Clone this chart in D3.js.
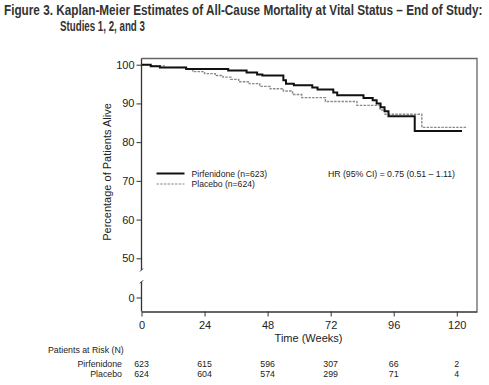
<!DOCTYPE html>
<html>
<head>
<meta charset="utf-8">
<script src="https://cdn.jsdelivr.net/npm/d3@7"></script>
<style>
  body { margin: 0; background: #fff; }
  svg text { font-family: "Liberation Sans", Arial, sans-serif; fill: #222; }
</style>
</head>
<body>
<div id="chart"></div>
<script>
var width = 489, height = 385;

// Kaplan-Meier step data (weeks, % alive)
var pirfTime = [0, 3.5, 7, 17, 33, 40, 44, 46, 54, 55, 58, 65, 67, 73, 74.5, 84.5, 88, 89.5, 91, 92.5, 94, 104, 122];
var pirfSurv = [100, 99.6, 99.3, 98.9, 98.5, 98.0, 97.5, 97.2, 96.0, 95.1, 94.7, 94.1, 93.6, 92.8, 92.1, 91.4, 90.8, 90.0, 89.0, 88.0, 86.7, 82.9, 82.9];
var placTime = [0, 4, 9, 17, 19.5, 24, 28, 31, 34, 37, 41, 45, 49, 54, 57.5, 61, 70, 82, 90.8, 92.7, 106.7, 123.6];
var placSurv = [100, 99.7, 99.3, 98.9, 98.2, 97.7, 97.2, 96.8, 96.2, 95.6, 95.1, 94.4, 93.8, 93.2, 92.3, 91.5, 90.5, 89.5, 88.3, 87.2, 83.8, 83.8];

var xTicks = [0, 24, 48, 72, 96, 120];
var yTicks = [0, 50, 60, 70, 80, 90, 100];
var riskPirf = [623, 615, 596, 307, 66, 2];
var riskPlac = [624, 604, 574, 299, 71, 4];

var svg = d3.select("#chart")
  .append("svg")
  .attr("width", width)
  .attr("height", height);

// Title, squeezed horizontally to the reference width
var titleFont = "'Liberation Sans Narrow', 'DejaVu Sans Condensed', sans-serif";
function fitTitle(str, x, y, w) {
  var t = svg.append("text")
    .attr("font-family", titleFont)
    .attr("font-weight", "bold")
    .attr("font-size", "14.5px")
    .style("fill", "#333")
    .text(str);
  var len = t.node().getComputedTextLength();
  t.attr("transform", `translate(${x},${y}) scale(${w / len},1)`);
}
fitTitle("Figure 3. Kaplan-Meier Estimates of All-Cause Mortality at Vital Status \u2013 End of Study:", 4, 15, 479);
fitTitle("Studies 1, 2, and 3", 60, 30.5, 85);

// Scales
var xScale = d3.scaleLinear()
  .domain([0, 127.7])
  .range([141.5, 477]);

// broken axis: 0 and 50..100
var yScale = d3.scaleLinear()
  .domain([-3.6, 0, 50, 101.6])
  .range([311.5, 297.5, 258.3, 58.5]);

var x0 = xScale.range()[0], x1 = xScale.range()[1];
var yTop = 58.5, yBot = 311.5;

// Frame top and right
svg.append("path")
  .attr("d", `M${x0},${yTop}H${x1}V${yBot}`)
  .attr("fill", "none")
  .attr("stroke", "#666")
  .attr("stroke-width", 1.3);

// X axis
var xAxis = d3.axisBottom(xScale)
  .tickValues(xTicks)
  .tickSize(5)
  .tickSizeOuter(0);

var gx = svg.append("g")
  .attr("transform", `translate(0, ${yBot})`)
  .attr("class", "x-axis")
  .call(xAxis);
gx.select(".domain").attr("stroke", "#333").attr("stroke-width", 1.3);
gx.selectAll(".tick line").attr("stroke", "#333");
gx.selectAll("text")
  .attr("font-size", "11px")
  .attr("dy", "0.9em")
  .style("fill", "#222");

// Y axis (domain drawn by hand for the break)
var yAxis = d3.axisLeft(yScale)
  .tickValues(yTicks)
  .tickSize(5)
  .tickSizeOuter(0);

var gy = svg.append("g")
  .attr("transform", `translate(${x0}, 0)`)
  .attr("class", "y-axis")
  .call(yAxis);
gy.select(".domain").remove();
gy.selectAll(".tick line").attr("stroke", "#333");
gy.selectAll("text")
  .attr("font-size", "11px")
  .attr("x", -7)
  .style("fill", "#222");

var breakHi = yScale(35), breakLo = yScale(20);
svg.append("path")
  .attr("d", `M${x0},${yTop}V${breakHi} M${x0},${breakLo}V${yBot}`)
  .attr("stroke", "#333")
  .attr("stroke-width", 1.3)
  .attr("fill", "none");
svg.append("path")
  .attr("d", `M${x0 - 1.5},${breakHi + 1.5}L${x0 + 1.5},${breakHi - 1.5} M${x0 - 1.5},${breakLo + 1.5}L${x0 + 1.5},${breakLo - 1.5}`)
  .attr("stroke", "#333")
  .attr("stroke-width", 1)
  .attr("fill", "none");

// Y label
svg.append("text")
  .attr("transform", `translate(111, 172) rotate(-90)`)
  .attr("text-anchor", "middle")
  .attr("font-size", "11px")
  .text("Percentage of Patients Alive");

// X label
svg.append("text")
  .attr("x", 308.5).attr("y", 341.5)
  .attr("text-anchor", "middle")
  .attr("font-size", "11px")
  .text("Time (Weeks)");

// Curves
var line = d3.line()
  .x(d => xScale(d[0]))
  .y(d => yScale(d[1]))
  .curve(d3.curveStepAfter);

var placData = placTime.map((t, i) => [t, placSurv[i]]);
var pirfData = pirfTime.map((t, i) => [t, pirfSurv[i]]);

svg.append("path")
  .datum(placData)
  .attr("d", line)
  .attr("fill", "none")
  .attr("stroke", "#8a8a8a")
  .attr("stroke-width", 1.4)
  .attr("stroke-dasharray", "2.5,1.2");

svg.append("path")
  .datum(pirfData)
  .attr("d", line)
  .attr("fill", "none")
  .attr("stroke", "#111")
  .attr("stroke-width", 2);

// Legend
svg.append("line")
  .attr("x1", 156.5).attr("x2", 184.5)
  .attr("y1", 173.5).attr("y2", 173.5)
  .attr("stroke", "#111").attr("stroke-width", 2);
svg.append("line")
  .attr("x1", 156.5).attr("x2", 184.5)
  .attr("y1", 184).attr("y2", 184)
  .attr("stroke", "#8a8a8a").attr("stroke-width", 1.2)
  .attr("stroke-dasharray", "2.5,1.2");
svg.append("text")
  .attr("x", 191.5).attr("y", 176.5)
  .attr("font-size", "8.6px")
  .text("Pirfenidone (n=623)");
svg.append("text")
  .attr("x", 191.5).attr("y", 187.3)
  .attr("font-size", "8.6px")
  .text("Placebo (n=624)");

svg.append("text")
  .attr("x", 328).attr("y", 177)
  .attr("font-size", "8.8px")
  .attr("textLength", 127)
  .text("HR (95% CI) = 0.75 (0.51 \u2013 1.11)");

// Patients at risk
svg.append("text")
  .attr("x", 48).attr("y", 353)
  .attr("font-size", "8.8px")
  .text("Patients at Risk (N)");

svg.append("text")
  .attr("x", 122).attr("y", 366.5)
  .attr("text-anchor", "end")
  .attr("font-size", "8.8px")
  .text("Pirfenidone");
svg.append("text")
  .attr("x", 122).attr("y", 377)
  .attr("text-anchor", "end")
  .attr("font-size", "8.8px")
  .text("Placebo");

svg.selectAll(".risk-pirf")
  .data(riskPirf)
  .enter()
  .append("text")
  .attr("class", "risk-pirf")
  .attr("x", (d, i) => xScale(xTicks[i]))
  .attr("y", 366.5)
  .attr("text-anchor", "middle")
  .attr("font-size", "8.8px")
  .text(d => d);

svg.selectAll(".risk-plac")
  .data(riskPlac)
  .enter()
  .append("text")
  .attr("class", "risk-plac")
  .attr("x", (d, i) => xScale(xTicks[i]))
  .attr("y", 377)
  .attr("text-anchor", "middle")
  .attr("font-size", "8.8px")
  .text(d => d);
</script>
</body>
</html>
